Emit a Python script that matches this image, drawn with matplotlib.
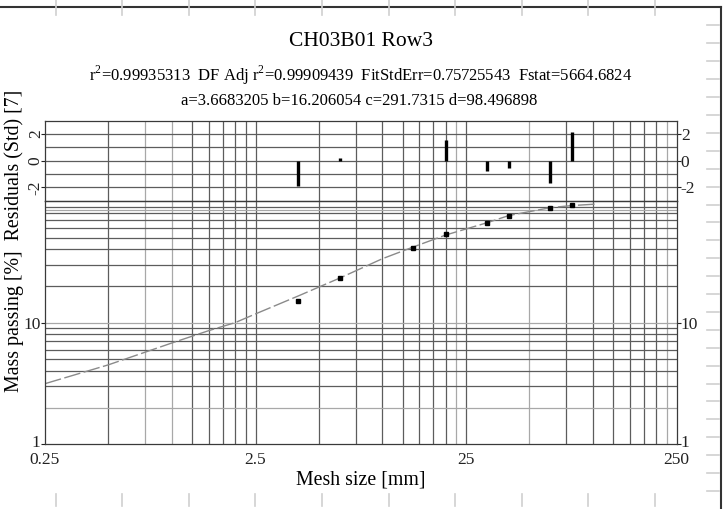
import numpy as np
import matplotlib
matplotlib.use("Agg")
import matplotlib.pyplot as plt
from matplotlib.lines import Line2D
from matplotlib.transforms import blended_transform_factory, ScaledTranslation

plt.rcParams["font.family"] = ["Liberation Serif", "DejaVu Serif"]
plt.rcParams["mathtext.fontset"] = "custom"
plt.rcParams["mathtext.rm"] = "Liberation Serif"

# ---- data -------------------------------------------------------------
sizes = [4.0, 6.3, 14.0, 20.0, 31.5, 40.0, 63.0, 80.0]          # mesh size [mm]
passing = [15.2, 23.2, 40.8, 53.5, 66.5, 75.7, 87.1, 92.7]       # mass passing [%]
residuals = [-1.88, 0.23, 0.0, 1.56, -0.75, -0.57, -1.70, 2.18]  # standardised residuals

fit_x = [0.25, 0.5, 1.0, 1.5, 2.0, 2.5, 4.0, 6.3, 10.0, 14.0, 20.0, 31.5, 40.0, 63.0, 80.0, 103.0]
fit_y = [3.15, 4.5, 6.8, 8.6, 10.0, 11.8, 16.6, 23.3, 33.5, 41.8, 52.5, 66.3, 76.0, 88.2, 91.8, 94.2]

x_ticks = [0.25, 2.5, 25, 250]
x_tick_labels = ["0.25", "2.5", "25", "250"]
y_ticks = [1, 10]
y_tick_labels = ["1", "10"]
res_ticks = [-2, 0, 2]
res_tick_labels = ["-2", "0", "2"]

title = "CH03B01 Row3"
stats_line = (r"r$^\mathregular{2}$=0.99935313  DF Adj r$^\mathregular{2}$=0.99909439  "
              r"FitStdErr=0.75725543  Fstat=5664.6824")
params_line = "a=3.6683205 b=16.206054 c=291.7315 d=98.496898"
x_label = "Mesh size [mm]"
y_label = "Mass passing [%]  Residuals (Std) [7]"

# ---- figure -----------------------------------------------------------
W, H = 723, 509
fig = plt.figure(figsize=(W / 100, H / 100), dpi=100)


def fx(px):
    return px / W


def fy(py):
    return 1 - py / H


L, R = 45, 676.5
ax_res = fig.add_axes([fx(L), fy(200.7), fx(R) - fx(L), fy(120.7) - fy(200.7)])
ax = fig.add_axes([fx(L), fy(444.3), fx(R) - fx(L), fy(201) - fy(444.3)])

dark = "#5c5c5c"
light = "#a8a8a8"
spine_c = "#3a3a3a"

for a in (ax, ax_res):
    a.set_xscale("log")
    a.set_xlim(0.25, 250)
    a.xaxis.set_minor_locator(matplotlib.ticker.NullLocator())
    for s in a.spines.values():
        s.set_color(spine_c)
        s.set_linewidth(0.9)
    # vertical grid: multiples of 0.25 per decade
    for dec in (0.25, 2.5, 25):
        for k in range(2, 10):
            v = dec * k
            c = light if round(v, 3) in (0.75, 1.0, 22.5, 50.0, 225.0) else dark
            a.axvline(v, color=c, lw=0.9, zorder=0.5)
    a.axvline(2.5, color=dark, lw=0.9, zorder=0.5)
    a.axvline(25, color=dark, lw=0.9, zorder=0.5)

# main panel
ax.set_yscale("log")
ax.set_ylim(1, 100)
ax.yaxis.set_minor_locator(matplotlib.ticker.NullLocator())
for dec in (1, 10):
    for k in range(2, 11):
        v = dec * k
        c = light if v in (2, 10) else dark
        ax.axhline(v, color=c, lw=0.9, zorder=0.5)
ax.axhline(85, color=light, lw=0.9, zorder=0.5)

ax.plot(fit_x, fit_y, color="#8a8a8a", lw=1.0, dashes=(12, 2.5), zorder=2)
ax.plot(sizes, passing, ls="none", marker="s", ms=3.5, color="black", zorder=3)

ax.set_xticks(x_ticks)
ax.set_xticklabels(x_tick_labels)
ax.set_yticks(y_ticks)
ax.set_yticklabels(y_tick_labels)
ax.tick_params(axis="x", length=0, pad=5.5, labelsize=12.5, colors="#222222")
ax.tick_params(axis="y", direction="out", length=2.6, width=0.8, pad=0.5,
               labelsize=12.5, left=True, right=True, labelleft=True, labelright=True,
               colors="#222222")
# nudge the "1" labels up a few pixels so they clear the x labels below
lift = ScaledTranslation(0, 3.5 / 100, fig.dpi_scale_trans)
for t in ax.yaxis.get_major_ticks():
    if t.get_loc() == 1:
        t.label1.set_transform(t.label1.get_transform() + lift)
        t.label2.set_transform(t.label2.get_transform() + lift)

# residual panel
ax_res.set_ylim(-3, 3)
for v in (-2, -1, 0, 1, 2):
    ax_res.axhline(v, color=dark, lw=0.9, zorder=0.5)
ax_res.vlines(sizes, 0, residuals, color="black", lw=2.4, zorder=2)
ax_res.set_xticks([])
ax_res.set_yticks(res_ticks)
ax_res.set_yticklabels(res_tick_labels)
ax_res.tick_params(axis="y", direction="out", length=2.6, width=0.8, pad=0.5,
                   labelsize=12.5, left=True, right=True, labelleft=False,
                   labelright=True, colors="#222222")
tr = blended_transform_factory(ax_res.transAxes, ax_res.transData)
for v, t in zip(res_ticks, res_tick_labels):
    ax_res.text(-0.0145, v, t, transform=tr, rotation=90, ha="center", va="center",
                fontsize=12.5, color="#222222")

# texts
fig.text(fx(361), fy(42), title, ha="center", va="center", fontsize=15.5)
fig.text(fx(361), fy(75), stats_line, ha="center", va="center", fontsize=12)
fig.text(fx(359), fy(101), params_line, ha="center", va="center", fontsize=12)
fig.text(fx(360.5), fy(480), x_label, ha="center", va="center", fontsize=14.3)
fig.text(fx(14), fy(240.5), y_label, ha="center", va="center", rotation=90, fontsize=14.3)

# outer frame with light ruler marks
fig.add_artist(Line2D([fx(0), fx(721)], [fy(7), fy(7)], color="#333333", lw=1.5))
fig.add_artist(Line2D([fx(721), fx(721)], [fy(7), fy(509)], color="#333333", lw=1.5))
ruler = "#cfcfcf"
for px in 55.5 + 66.6 * np.arange(10):
    fig.add_artist(Line2D([fx(px), fx(px)], [fy(0), fy(15)], color=ruler, lw=1.2))
    fig.add_artist(Line2D([fx(px), fx(px)], [fy(494), fy(506)], color=ruler, lw=1.2))
for py in 25.5 + 17.9 * np.arange(27):
    fig.add_artist(Line2D([fx(707), fx(719)], [fy(py), fy(py)], color=ruler, lw=1.2))

fig.savefig("out.png", dpi=100)
